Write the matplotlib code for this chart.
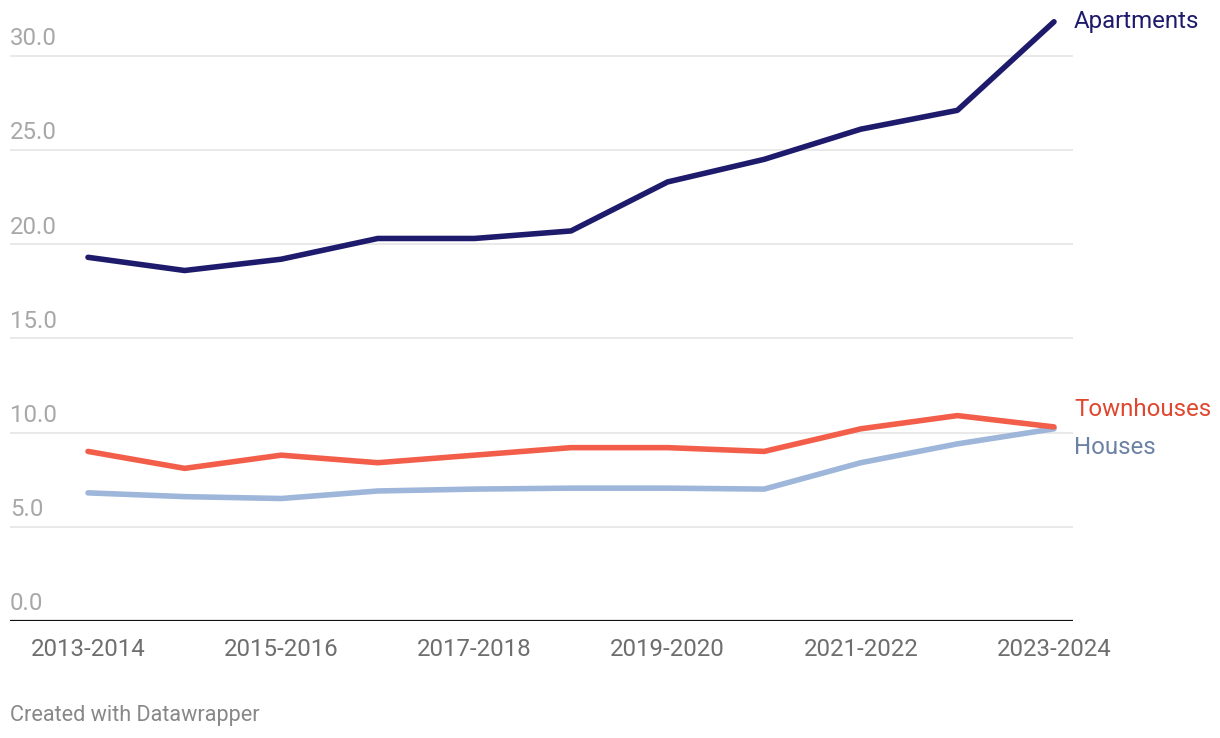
import matplotlib.pyplot as plt
from matplotlib.transforms import blended_transform_factory

plt.rcParams["font.family"] = ["Roboto", "DejaVu Sans"]

periods = ["2013-2014", "2014-2015", "2015-2016", "2016-2017", "2017-2018", "2018-2019",
           "2019-2020", "2020-2021", "2021-2022", "2022-2023", "2023-2024"]
apartments = [19.3, 18.6, 19.2, 20.3, 20.3, 20.7, 23.3, 24.5, 26.1, 27.1, 31.8]
townhouses = [9.0, 8.1, 8.8, 8.4, 8.8, 9.2, 9.2, 9.0, 10.2, 10.9, 10.3]
houses = [6.8, 6.6, 6.5, 6.9, 7.0, 7.05, 7.05, 7.0, 8.4, 9.4, 10.2]
y_ticks = [0, 5, 10, 15, 20, 25, 30]

W, H = 1220, 738
fig = plt.figure(figsize=(W / 100, H / 100), dpi=100)
# axes box in pixels: left 10, right 1073, bottom 621, top 18
ax = fig.add_axes([10 / W, 1 - 621 / H, (1073 - 10) / W, (621 - 18) / H])

x = list(range(len(periods)))
step = (1054 - 88) / 10
ax.set_xlim(-(88 - 10) / step, 10 + (1073 - 1054) / step)
ax.set_ylim(0, 32)

series = [
    ("Houses", houses, "#9db6da", "#6c82a5", -19),
    ("Townhouses", townhouses, "#f25e49", "#e0472f", 17),
    ("Apartments", apartments, "#1e1b6d", "#1e1b6d", 0),
]
for name, vals, col, lab_col, dy in series:
    ax.plot(x, vals, color=col, lw=4.0, solid_capstyle="round", solid_joinstyle="round",
            clip_on=False, zorder=3)
    ax.annotate(name, (x[-1], vals[-1]), xytext=(14.5, dy * 0.72), textcoords="offset points",
                ha="left", va="center", fontsize=17.3, color=lab_col, annotation_clip=False)

# gridlines and y labels (Datawrapper style, labels above the lines)
trans = blended_transform_factory(ax.transAxes, ax.transData)
for t in y_ticks:
    if t > 0:
        ax.axhline(t, color="#e3e3e3", lw=1.1, zorder=1)
    ax.annotate(f"{t:.1f}", (0, t), xycoords=trans, xytext=(0, 4.0), textcoords="offset points",
                ha="left", va="bottom", fontsize=17.3, color="#a8a8a8")

ax.axhline(0, color="#111111", lw=1.6, zorder=2)

ax.set_xticks(x[::2])
ax.set_xticklabels(periods[::2], fontsize=17.3, color="#6e6e6e")
ax.tick_params(axis="x", length=0, pad=12.5)
ax.set_yticks([])
for s in ax.spines.values():
    s.set_visible(False)

fig.text(10 / W, 1 - 715 / H, "Created with Datawrapper", ha="left", va="center",
         fontsize=15.6, color="#888888")

fig.savefig("out.png", dpi=100)
